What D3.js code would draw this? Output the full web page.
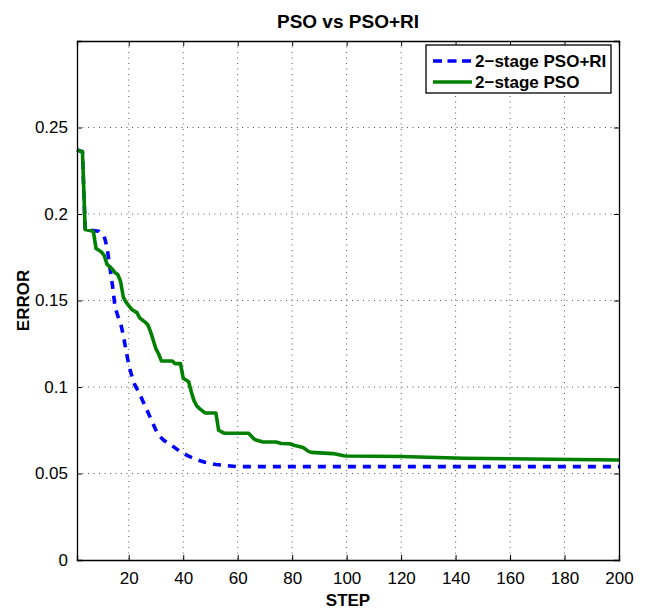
<!DOCTYPE html>
<html>
<head>
<meta charset="utf-8">
<script src="https://cdn.jsdelivr.net/npm/d3@7"></script>
<style>
  body { margin: 0; background: #fff; }
  text { font-family: 'Liberation Sans', Arial, Helvetica, sans-serif; fill: #000; }
  .grid line { stroke: #555; stroke-width: 1; stroke-dasharray: 1,4.5; }
</style>
</head>
<body>
<div id="chart"></div>
<script>
// values (step, error)
const psoSteps = [1, 3, 4, 7, 8, 10, 11, 12, 14, 15, 16, 17, 18, 19, 20, 21, 23, 24, 26, 27, 28, 29, 30, 31, 32, 36, 37, 39, 40, 42, 43, 44, 45, 46, 48, 52, 53, 55, 64, 66, 67, 69, 74, 76, 79, 81, 84, 86, 87, 95, 99, 100, 120, 143, 200]
const psoError = [0.237, 0.236, 0.191, 0.190, 0.180, 0.178, 0.176, 0.171, 0.168, 0.166, 0.165, 0.161, 0.152, 0.149, 0.147, 0.145, 0.143, 0.140, 0.1375, 0.136, 0.132, 0.127, 0.122, 0.119, 0.115, 0.115, 0.1135, 0.1135, 0.105, 0.103, 0.097, 0.092, 0.089, 0.0875, 0.085, 0.085, 0.075, 0.0733, 0.0733, 0.070, 0.0692, 0.0683, 0.0682, 0.0673, 0.0672, 0.0662, 0.065, 0.0628, 0.0622, 0.0615, 0.0603, 0.0601, 0.0598, 0.0588, 0.0578]

const riSteps = [1, 3, 4, 9, 11, 12, 13, 14, 15, 16, 17, 18, 19, 20, 21, 22, 24, 26, 28, 30, 31, 33, 36, 39, 42, 45, 48, 52, 56, 60, 200]
const riError = [0.237, 0.236, 0.191, 0.190, 0.187, 0.181, 0.170, 0.159, 0.146, 0.141, 0.137, 0.130, 0.121, 0.113, 0.107, 0.102, 0.096, 0.089, 0.082, 0.075, 0.072, 0.069, 0.066, 0.0625, 0.060, 0.058, 0.0565, 0.0552, 0.0545, 0.054, 0.054]

const xTicks = [20, 40, 60, 80, 100, 120, 140, 160, 180, 200]
const yTicks = [0, 0.05, 0.1, 0.15, 0.2, 0.25]
const yTickLabels = ['0', '0.05', '0.1', '0.15', '0.2', '0.25']

const series = [
  { name: '2\u2212stage PSO+RI', steps: riSteps, values: riError, color: '#0000ff', dash: '8,7', legendDash: '9,5.5' },
  { name: '2\u2212stage PSO', steps: psoSteps, values: psoError, color: '#008000', dash: null, legendDash: null }
]

const margin = { top: 41, right: 27, bottom: 49, left: 77 }
const w = 646
const h = 609
const width = w - margin.left - margin.right
const height = h - margin.top - margin.bottom

const svg = d3.select('#chart').append('svg')
  .attr('width', w)
  .attr('height', h)

const g = svg.append('g').attr('transform', 'translate(' + margin.left + ',' + margin.top + ')')

const x = d3.scaleLinear().domain([1, 200]).range([0, width])
const y = d3.scaleLinear().domain([0, 0.3]).range([height, 0])

// dotted grid
g.append('g').attr('class', 'grid')
  .selectAll('line').data(xTicks.filter(d => d < 200))
  .enter().append('line')
  .attr('x1', d => x(d)).attr('x2', d => x(d))
  .attr('y1', 0).attr('y2', height)

g.append('g').attr('class', 'grid')
  .selectAll('line').data(yTicks.filter(d => d > 0))
  .enter().append('line')
  .attr('x1', 0).attr('x2', width)
  .attr('y1', d => y(d)).attr('y2', d => y(d))

// lines
const line = d3.line()
  .x(d => x(d[0]))
  .y(d => y(d[1]))

series.forEach(s => {
  g.append('path')
    .datum(s.steps.map((st, i) => [st, s.values[i]]))
    .attr('fill', 'none')
    .attr('stroke', s.color)
    .attr('stroke-width', 3.6)
    .attr('stroke-linejoin', 'round')
    .attr('stroke-dasharray', s.dash)
    .attr('d', line)
})

// axes: ticks point inward, on all four sides (box)
const tickLen = 5
g.append('g')
  .attr('transform', 'translate(0,' + height + ')')
  .call(d3.axisBottom(x).tickValues(xTicks).tickSize(-tickLen).tickPadding(12))
g.append('g')
  .call(d3.axisTop(x).tickValues(xTicks).tickSize(-tickLen).tickFormat(''))
g.append('g')
  .call(d3.axisLeft(y).tickValues(yTicks).tickSize(-tickLen).tickPadding(9)
    .tickFormat((d, i) => yTickLabels[i]))
g.append('g')
  .attr('transform', 'translate(' + width + ',0)')
  .call(d3.axisRight(y).tickValues(yTicks).tickSize(-tickLen).tickFormat(''))

g.selectAll('.domain').attr('stroke', '#000').attr('stroke-width', 1.3)
g.selectAll('.tick line').attr('stroke', '#000')
g.selectAll('.tick text').style('font-size', '17px').attr('fill', '#000')

// titles
svg.append('text')
  .attr('x', margin.left + width / 2)
  .attr('y', 28)
  .attr('text-anchor', 'middle')
  .style('font-size', '19px')
  .style('font-weight', 'bold')
  .text('PSO vs PSO+RI')

svg.append('text')
  .attr('x', margin.left + width / 2)
  .attr('y', 606)
  .attr('text-anchor', 'middle')
  .style('font-size', '17px')
  .style('font-weight', 'bold')
  .text('STEP')

svg.append('text')
  .attr('transform', 'translate(29,' + (margin.top + height / 2) + ') rotate(-90)')
  .attr('text-anchor', 'middle')
  .style('font-size', '17px')
  .style('font-weight', 'bold')
  .text('ERROR')

// legend
const legend = svg.append('g').attr('transform', 'translate(426,45)')
legend.append('rect')
  .attr('width', 185)
  .attr('height', 48)
  .attr('fill', '#fff')
  .attr('stroke', '#000')
  .attr('stroke-width', 1.3)

series.forEach((s, i) => {
  const ly = 16 + i * 21
  legend.append('line')
    .attr('x1', 7).attr('x2', 46)
    .attr('y1', ly).attr('y2', ly)
    .attr('stroke', s.color)
    .attr('stroke-width', 3.6)
    .attr('stroke-dasharray', s.legendDash)
  legend.append('text')
    .attr('x', 49)
    .attr('y', ly + 6)
    .style('font-size', '17px')
    .style('font-weight', 'bold')
    .text(s.name)
})
</script>
</body>
</html>
